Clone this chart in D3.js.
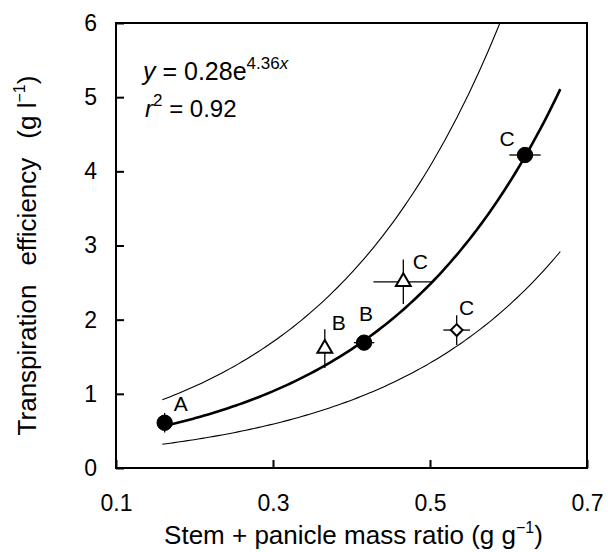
<!DOCTYPE html>
<html>
<head>
<meta charset="utf-8">
<script src="https://cdn.jsdelivr.net/npm/d3@7"></script>
<style>
  body { margin: 0; background: #fff; }
  text { font-family: "Liberation Sans", Arial, sans-serif; fill: #000; }
</style>
</head>
<body>
<div id="chart"></div>
<script>
const width = 608;
const height = 552;
const margin = { top: 23, right: 21, bottom: 84, left: 116 };
const innerW = width - margin.left - margin.right;
const innerH = height - margin.top - margin.bottom;

// data
const points = [
  { x: 0.162, y: 0.61, xErr: 0, yErr: 0.13, shape: "circle", label: "A", dx: 16, dy: -19 },
  { x: 0.366, y: 1.61, xErr: 0, yErr: 0.26, shape: "triangle", label: "B", dx: 14, dy: -26 },
  { x: 0.416, y: 1.69, xErr: 0.013, yErr: 0.1, shape: "circle", label: "B", dx: 2, dy: -29 },
  { x: 0.466, y: 2.51, xErr: 0.038, yErr: 0.3, shape: "triangle", label: "C", dx: 17, dy: -20 },
  { x: 0.534, y: 1.86, xErr: 0.017, yErr: 0.2, shape: "diamond", label: "C", dx: 10, dy: -23 },
  { x: 0.621, y: 4.22, xErr: 0.02, yErr: 0, shape: "circle", label: "C", dx: -18, dy: -17 }
];

// fitted curve y = a * exp(b x) and the two thin bounding curves
const fitB = 4.36;
const fitA = 0.28;
const upperA = 0.46;
const lowerA = 0.16;
const curveStart = 0.162;
const bandStart = 0.159;
const curveEnd = 0.666;

const xTicks = [0.1, 0.3, 0.5, 0.7];
const yTicks = [0, 1, 2, 3, 4, 5, 6];

const svg = d3.select("#chart")
  .append("svg")
  .attr("width", width)
  .attr("height", height);

const g = svg.append("g")
  .attr("transform", `translate(${margin.left}, ${margin.top})`);

const xScale = d3.scaleLinear().domain([0.1, 0.7]).range([0, innerW]);
const yScale = d3.scaleLinear().domain([0, 6]).range([innerH, 0]);

g.append("clipPath").attr("id", "clip")
  .append("rect").attr("width", innerW).attr("height", innerH);

// curves
const line = d3.line().x(d => xScale(d[0])).y(d => yScale(d[1]));
function curvePoints(a, x0, x1) {
  return d3.range(0, 101).map(i => {
    const x = x0 + (x1 - x0) * i / 100;
    return [x, a * Math.exp(fitB * x)];
  });
}

const curves = g.append("g").attr("clip-path", "url(#clip)");
curves.append("path")
  .attr("d", line(curvePoints(upperA, bandStart, curveEnd)))
  .attr("fill", "none").attr("stroke", "black").attr("stroke-width", 1.1);
curves.append("path")
  .attr("d", line(curvePoints(lowerA, bandStart, curveEnd)))
  .attr("fill", "none").attr("stroke", "black").attr("stroke-width", 1.1);
curves.append("path")
  .attr("d", line(curvePoints(fitA, curveStart, curveEnd)))
  .attr("fill", "none").attr("stroke", "black").attr("stroke-width", 2.6);

// error bars
const bars = g.append("g").attr("stroke", "black").attr("stroke-width", 1.3);
points.forEach(p => {
  const cx = xScale(p.x), cy = yScale(p.y);
  const hx = Math.max(xScale(p.x + p.xErr) - cx, 0);
  const hy = Math.max(cy - yScale(p.y + p.yErr), 0);
  if (hx > 0) bars.append("line").attr("x1", cx - hx).attr("x2", cx + hx).attr("y1", cy).attr("y2", cy);
  if (hy > 0) bars.append("line").attr("x1", cx).attr("x2", cx).attr("y1", cy - hy).attr("y2", cy + hy);
});

// markers
const symbols = { circle: d3.symbolCircle, triangle: d3.symbolTriangle, diamond: d3.symbolSquare };
points.forEach(p => {
  const cx = xScale(p.x), cy = yScale(p.y);
  const m = g.append("path")
    .attr("transform", `translate(${cx},${cy})` + (p.shape === "diamond" ? " rotate(45)" : ""))
    .attr("stroke", "black");
  if (p.shape === "circle") {
    m.attr("d", d3.symbol(symbols.circle, 185)()).attr("fill", "black");
  } else if (p.shape === "triangle") {
    m.attr("d", d3.symbol(symbols.triangle, 95)()).attr("fill", "white").attr("stroke-width", 2);
  } else {
    m.attr("d", d3.symbol(symbols.diamond, 70)()).attr("fill", "white").attr("stroke-width", 2);
  }
  g.append("text")
    .attr("x", cx + p.dx).attr("y", cy + p.dy)
    .attr("text-anchor", "middle").attr("dominant-baseline", "central")
    .style("font-size", "21px")
    .text(p.label);
});

// frame
g.append("rect")
  .attr("width", innerW).attr("height", innerH)
  .attr("fill", "none").attr("stroke", "black").attr("stroke-width", 2);

// axes with inward ticks
const xAxis = d3.axisBottom(xScale).tickValues(xTicks).tickSize(-8).tickPadding(27)
  .tickFormat(d3.format(".1f"));
const yAxis = d3.axisLeft(yScale).tickValues(yTicks).tickSize(-8).tickPadding(19)
  .tickFormat(d3.format("d"));

const gx = g.append("g").attr("transform", `translate(0, ${innerH})`).call(xAxis);
const gy = g.append("g").call(yAxis);
[gx, gy].forEach(a => {
  a.select(".domain").remove();
  a.selectAll("line").attr("stroke", "black").attr("stroke-width", 2);
  a.selectAll("text").style("font-size", "23px").style("font-family", "Liberation Sans, Arial, sans-serif");
});

// axis titles
const xt = svg.append("text")
  .attr("x", margin.left + innerW / 2 + 2).attr("y", 544)
  .attr("text-anchor", "middle").style("font-size", "26px");
xt.append("tspan").text("Stem + panicle mass ratio (g g");
xt.append("tspan").attr("dy", -11).style("font-size", "16px").text("−1");
xt.append("tspan").attr("dy", 11).text(")");

const yt = svg.append("text")
  .attr("transform", `translate(36, ${margin.top + innerH / 2 + 10}) rotate(-90)`)
  .attr("text-anchor", "middle").style("font-size", "26px");
yt.append("tspan").text("Transpiration");
yt.append("tspan").attr("dx", 19).text("efficiency");
yt.append("tspan").attr("dx", 19).text("(g l");
yt.append("tspan").attr("dy", -11).style("font-size", "16px").text("−1");
yt.append("tspan").attr("dy", 11).text(")");

// equation
const eq = svg.append("text").attr("x", 143).attr("y", 80).style("font-size", "25px");
eq.append("tspan").style("font-style", "italic").text("y");
eq.append("tspan").text(" = 0.28e");
eq.append("tspan").attr("dy", -11).style("font-size", "17px").text("4.36");
eq.append("tspan").style("font-size", "17px").style("font-style", "italic").text("x");

const r2 = svg.append("text").attr("x", 145).attr("y", 117).style("font-size", "24px");
r2.append("tspan").style("font-style", "italic").text("r");
r2.append("tspan").attr("dy", -11).style("font-size", "17px").text("2");
r2.append("tspan").attr("dy", 11).text(" = 0.92");
</script>
</body>
</html>
